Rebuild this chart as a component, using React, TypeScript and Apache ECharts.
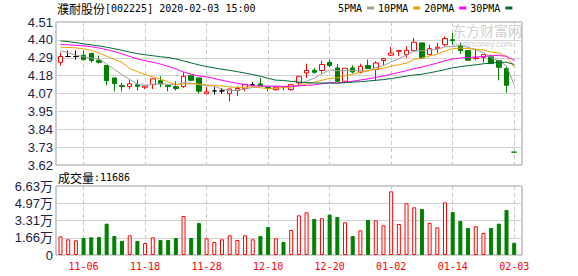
import React, { useEffect, useRef } from 'react';
import * as echarts from 'echarts';

const stockName = '濮耐股份';
const stockCode = '[002225]';
const stamp = '2020-02-03 15:00';
const volumeLabel = '成交量';
const watermarkCn = '东方财富网';
const watermarkEn = 'eastmoney.com';

const dates = ['11-01','11-04','11-05','11-06','11-07','11-08','11-11','11-12','11-13','11-14','11-15','11-18','11-19','11-20','11-21','11-22','11-25','11-26','11-27','11-28','11-29','12-02','12-03','12-04','12-05','12-06','12-09','12-10','12-11','12-12','12-13','12-16','12-17','12-18','12-19','12-20','12-23','12-24','12-25','12-26','12-27','12-30','12-31','01-02','01-03','01-06','01-07','01-08','01-09','01-10','01-13','01-14','01-15','01-16','01-17','01-20','01-21','01-22','01-23','02-03'];
const dateTicks = ['11-06','11-18','11-28','12-10','12-20','01-02','01-14','02-03'];

const opens = [4.259,4.295,4.295,4.303,4.315,4.272,4.239,4.162,4.114,4.108,4.120,4.104,4.120,4.145,4.114,4.108,4.108,4.176,4.162,4.064,4.081,4.081,4.064,4.083,4.096,4.120,4.125,4.102,4.089,4.108,4.089,4.131,4.193,4.210,4.208,4.259,4.224,4.141,4.224,4.197,4.239,4.214,4.270,4.303,4.328,4.307,4.332,4.380,4.307,4.344,4.369,4.400,4.359,4.332,4.282,4.290,4.293,4.270,4.220,3.700];
const closes = [4.295,4.295,4.295,4.276,4.270,4.259,4.145,4.127,4.108,4.125,4.110,4.112,4.156,4.125,4.108,4.096,4.172,4.147,4.079,4.075,4.081,4.081,4.093,4.096,4.120,4.120,4.112,4.096,4.104,4.104,4.120,4.172,4.208,4.197,4.245,4.239,4.141,4.222,4.199,4.234,4.220,4.255,4.282,4.317,4.332,4.334,4.384,4.287,4.344,4.353,4.407,4.394,4.332,4.272,4.287,4.307,4.251,4.228,4.116,3.700];
const lows = [4.239,4.292,4.276,4.272,4.257,4.251,4.116,4.079,4.079,4.093,4.083,4.093,4.093,4.104,4.079,4.083,4.100,4.147,4.064,4.064,4.058,4.064,4.017,4.048,4.079,4.110,4.112,4.079,4.083,4.083,4.083,4.120,4.162,4.189,4.189,4.230,4.137,4.141,4.189,4.189,4.220,4.145,4.241,4.299,4.297,4.287,4.324,4.285,4.307,4.317,4.359,4.369,4.311,4.272,4.272,4.257,4.251,4.147,4.069,3.700];
const highs = [4.320,4.332,4.332,4.332,4.315,4.301,4.239,4.162,4.131,4.152,4.152,4.116,4.156,4.172,4.120,4.141,4.197,4.176,4.162,4.104,4.104,4.100,4.093,4.110,4.125,4.137,4.162,4.102,4.110,4.110,4.120,4.172,4.251,4.224,4.270,4.276,4.249,4.222,4.241,4.251,4.276,4.266,4.282,4.355,4.332,4.359,4.411,4.380,4.369,4.380,4.421,4.442,4.380,4.332,4.344,4.307,4.307,4.270,4.234,3.700];
const volumes = [17900,15100,14100,16300,17000,17300,30100,18300,13500,18900,13500,11500,17000,14400,14400,16300,37500,16300,30800,16000,12500,15100,18900,14400,18900,15100,18300,26900,16000,12500,24000,38100,41000,34600,35300,38800,36500,31400,18300,23700,33700,33300,28500,61200,29800,49700,45800,44200,30800,26600,50600,41300,32700,26000,27600,21200,26000,30100,43300,11686];

const priceTicks = ['3.62','3.73','3.84','3.95','4.07','4.18','4.29','4.40','4.51'];
const volumeTicks = ['0','1.66万','3.31万','4.97万','6.63万'];

const maNames = ['5PMA','10PMA','20PMA','30PMA'];
const maPeriods = [5, 10, 20, 30];
// moving-average values for days whose window starts before the first visible day
const ma5Lead = [4.332,4.318,4.305,4.294];
const ma10Lead = [4.353,4.352,4.349,4.343,4.333,4.317,4.297,4.278,4.258];
const ma20Lead = [4.370,4.368,4.365,4.362,4.356,4.348,4.338,4.326,4.311,4.296,4.280,4.269,4.260,4.248,4.234,4.218,4.199,4.185,4.174];
const ma30Lead = [4.392,4.388,4.381,4.374,4.368,4.361,4.353,4.344,4.334,4.323,4.313,4.306,4.300,4.294,4.289,4.280,4.268,4.255,4.243,4.233,4.224,4.216,4.209,4.201,4.192,4.183,4.172,4.160,4.148];
const maLeads = [ma5Lead, ma10Lead, ma20Lead, ma30Lead];

const RED = '#ff0000';
const GREEN = '#008000';
const BLACK = '#000000';
const MA_COLORS = ['#a0a0a0', '#f0a000', '#ff00ff', '#006a33'];
const MONO = '"DejaVu Sans Mono", "Liberation Mono", monospace';
const CJK = '"Noto Sans CJK SC", sans-serif';
const SANS = '"Liberation Sans", Arial, "Noto Sans CJK SC", sans-serif';
const AXIS_TEXT = '#222244';
const WM = '#d0d0d0';

function movingAverage(period: number, lead: number[]) {
  return closes.map((_, i) => {
    if (i < period - 1) return lead[i];
    let s = 0;
    for (let k = i - period + 1; k <= i; k++) s += closes[k];
    return +(s / period).toFixed(4);
  });
}

export default function App() {
  const ref = useRef<HTMLDivElement>(null);
  useEffect(() => {
    if (!ref.current) return;
    const chart = echarts.init(ref.current, null, { renderer: 'svg' });

    const candleData = opens.map((o, i) => {
      const c = closes[i];
      const prev = i > 0 ? closes[i - 1] : c;
      const item: any = { value: [o, c, lows[i], highs[i]] };
      if (o === c) {
        const col = c < prev ? GREEN : BLACK;
        item.itemStyle = { color: col, color0: col, borderColor: col, borderColor0: col, borderColorDoji: col };
      }
      return item;
    });
    const volumeData = volumes.map((v, i) => {
      const o = opens[i];
      const c = closes[i];
      const prev = i > 0 ? closes[i - 1] : c;
      const up = c > o || (c === o && c >= prev);
      return {
        value: v,
        itemStyle: up
          ? { color: '#ffffff', borderColor: RED, borderWidth: 1 }
          : { color: GREEN, borderColor: GREEN, borderWidth: 1 },
      };
    });

    const tickFn = (_idx: number, value: string) => dateTicks.includes(value);
    const L = 56, W = 466, PT = 22, PH = 143, VT = 186, VH = 69;
    const DL = 60.5, DW = 453.7;
    const vLine = { show: true, interval: tickFn, lineStyle: { color: '#c8c8c8', type: [4, 3], width: 1 } };
    const hLine = { show: true, lineStyle: { color: '#d2d2d2', width: 1 } };
    const rich = {
      c: { fontFamily: CJK, fontSize: 12, fontWeight: 'normal', fill: '#000' },
      m: { fontFamily: MONO, fontSize: 10, fontWeight: 'normal', fill: '#000' },
    };

    const option: any = {
      animation: false,
      backgroundColor: '#ffffff',
      legend: {
        data: maNames.map((n) => ({ name: n, icon: 'rect' })),
        left: 338,
        top: 3,
        align: 'right',
        itemGap: 4,
        itemWidth: 7,
        itemHeight: 3,
        padding: 0,
        textStyle: { fontFamily: MONO, fontSize: 10, color: '#000' },
        selectedMode: false,
      },
      grid: [
        { left: L, top: PT, width: W, height: PH, show: true, borderColor: '#999', borderWidth: 1, backgroundColor: 'transparent', outerBoundsMode: 'none', containLabel: false },
        { left: DL, top: PT, width: DW, height: PH, outerBoundsMode: 'none', containLabel: false },
        { left: L, top: VT, width: W, height: VH, show: true, borderColor: '#999', borderWidth: 1, backgroundColor: 'transparent', outerBoundsMode: 'none', containLabel: false },
        { left: DL, top: VT, width: DW, height: VH, outerBoundsMode: 'none', containLabel: false },
      ],
      xAxis: [
        { type: 'value', gridIndex: 0, min: 0, max: 1, show: false },
        { type: 'category', gridIndex: 1, data: dates, boundaryGap: false, axisLine: { show: false }, axisTick: { show: false }, axisLabel: { show: false }, splitLine: vLine },
        { type: 'value', gridIndex: 2, min: 0, max: 1, show: false },
        {
          type: 'category', gridIndex: 3, data: dates, boundaryGap: false,
          axisLine: { show: false }, axisTick: { show: false },
          axisLabel: { show: true, interval: tickFn, color: RED, fontFamily: MONO, fontSize: 10, margin: 6 },
          splitLine: vLine,
        },
      ],
      yAxis: [
        {
          type: 'value', gridIndex: 0, min: 0, max: priceTicks.length - 1, interval: 1,
          axisLine: { show: false }, axisTick: { show: false },
          axisLabel: { formatter: (v: number) => priceTicks[Math.round(v)], color: AXIS_TEXT, fontFamily: SANS, fontSize: 13, margin: 3 },
          splitLine: hLine,
        },
        { type: 'value', gridIndex: 1, min: parseFloat(priceTicks[0]), max: parseFloat(priceTicks[priceTicks.length - 1]), show: false },
        {
          type: 'value', gridIndex: 2, min: 0, max: volumeTicks.length - 1, interval: 1,
          axisLine: { show: false }, axisTick: { show: false },
          axisLabel: { formatter: (v: number) => volumeTicks[Math.round(v)], color: AXIS_TEXT, fontFamily: SANS, fontSize: 13, margin: 3 },
          splitLine: hLine,
        },
        { type: 'value', gridIndex: 3, min: 0, max: parseFloat(volumeTicks[volumeTicks.length - 1]) * 10000, show: false },
      ],
      graphic: {
        elements: [
          {
            type: 'text', x: 57, y: 2, z: 10,
            style: { text: `{c|${stockName}}{m|${stockCode} ${stamp}}`, rich },
          },
          {
            type: 'text', x: 58, y: 171, z: 10,
            style: { text: `{c|${volumeLabel}}{m|:${volumes[volumes.length - 1]}}`, rich },
          },
          {
            type: 'text', x: 452, y: 23, z: 1, silent: true,
            style: { text: watermarkCn, fontFamily: CJK, fontSize: 14, fill: WM },
          },
          {
            type: 'text', x: 453, y: 40, z: 1, silent: true,
            style: { text: watermarkEn, fontFamily: SANS, fontSize: 8.5, fill: WM },
          },
        ],
      },
      series: [
        {
          type: 'candlestick', name: 'K', xAxisIndex: 1, yAxisIndex: 1, data: candleData,
          barWidth: 5, clip: false, z: 2,
          itemStyle: { color: '#ffffff', color0: GREEN, borderColor: RED, borderColor0: GREEN, borderColorDoji: BLACK, borderWidth: 1 },
        },
        ...maNames.map((n, k) => ({
          type: 'line', name: n, xAxisIndex: 1, yAxisIndex: 1,
          data: movingAverage(maPeriods[k], maLeads[k]),
          showSymbol: false, symbol: 'none', clip: false, z: 3,
          color: MA_COLORS[k],
          lineStyle: { color: MA_COLORS[k], width: 1 },
        })),
        {
          type: 'bar', name: 'VOL', xAxisIndex: 3, yAxisIndex: 3, data: volumeData,
          barWidth: 4, clip: false,
        },
      ],
    };
    chart.setOption(option);
    return () => chart.dispose();
  }, []);
  return <div ref={ref} style={{ position: 'fixed', left: 0, top: 0, width: 578, height: 276, background: '#fff' }} />;
}
